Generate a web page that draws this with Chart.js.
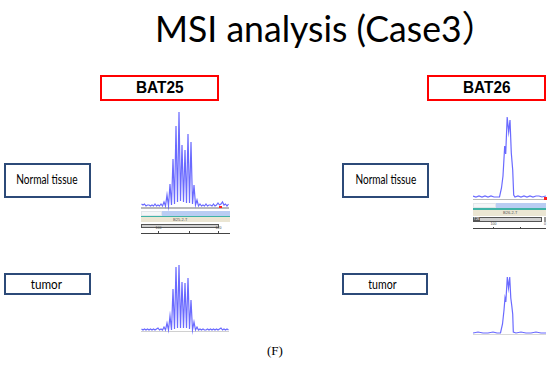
<!DOCTYPE html>
<html><head><meta charset="utf-8">
<script src="https://cdn.jsdelivr.net/npm/chart.js@4.4.1/dist/chart.umd.min.js"></script>
<style>
html,body{margin:0;padding:0;background:#fff;}
#stage{position:relative;width:550px;height:372px;overflow:hidden;font-family:Lato,"Open Sans",sans-serif;color:#000;}
.box{position:absolute;box-sizing:border-box;}
.txt{position:absolute;white-space:nowrap;line-height:1;transform-origin:center center;}
.rect{position:absolute;box-sizing:border-box;}
canvas{position:absolute;}
</style></head><body><div id="stage"></div>
<script>
// ---------- DATA ----------
const titleText = "MSI analysis (Case3\uFF09";
const markerNames = ["BAT25", "BAT26"];
const sampleNames = ["Normal tissue", "tumor"];
const figureLabel = "(F)";
const bat25Labels = ["B25-2-T", "100", "120"];
const bat26Labels = ["B26-2-T", "T26", "100", "0"];

// BAT25: fragment size (bp) and signal (relative units)
const bat25Size = [94.5,95,95.5,96,96.5,97,97.5,98,98.5,99,99.5,100,100.5,101,101.5,102,102.5,103,103.5,104,104.5,105,105.5,106,106.5,107,107.5,108,108.5,109,109.5,110,110.5,111,111.5,112,112.5,113,113.5,114,114.5,115,115.5,116,116.5,117,117.5,118,118.5,119,119.5,120,120.5,121,121.5,122,122.5,123,123.5];
const bat25Normal = [3,2,3,1,2,2,1,2,1,3,1,2,1,3,1,5,1,12,1,23,2,48,3,81,5,95,6,62,5,57,4,73,4,65,3,22,2,7,1,3,1,2,1,3,1,2,2,1,3,1,2,4,2,3,5,2,3,1,3];
const bat25Tumor  = [2,1,2,1,2,1,2,1,2,1,2,3,1,2,1,4,1,8,1,15,1,42,2,64,3,66,3,49,3,48,3,53,2,31,1,9,1,4,1,2,1,2,1,1,2,1,2,1,2,1,2,1,2,3,1,2,1,2,1];

// BAT26: fragment size (bp) and signal (relative units)
const bat26NormalSize = [93.33,94.33,95.33,96.33,97.33,98.33,99.33,100.33,101.33,102.17,102.83,103.33,103.9,104.23,104.73,105.23,105.67,106.1,106.57,106.9,107.33,108.33,109.33,110.33,111.33,112.33,113.33,114.33,115.33,116.33,117.67];
const bat26Normal     = [2,1,2,1,2,1,2,1,1,1,10,22,52,44,81,66,78,45,28,3,1,2,1,2,1,2,1,2,2,1,2];
const bat26TumorSize  = [93.33,95,96.67,98.33,100,101.33,102.5,103.17,103.67,104,104.27,104.77,105.17,105.57,105.93,106.27,106.57,106.77,107.67,109.33,111,112.67,114.33,116,117.67];
const bat26Tumor      = [1,2,1,1,2,1,1,10,24,36,32,57,46,57,36,28,20,2,1,2,1,1,2,1,1];

// ---------- LAYOUT HELPERS ----------
const stage = document.getElementById('stage');
function rect(l, t, w, h, css) {
  const d = document.createElement('div');
  d.className = 'rect';
  d.style.left = l + 'px'; d.style.top = t + 'px';
  d.style.width = w + 'px'; d.style.height = h + 'px';
  Object.assign(d.style, css || {});
  stage.appendChild(d);
  return d;
}
function text(str, cx, cy, size, width, css) {
  const s = document.createElement('span');
  s.className = 'txt';
  s.textContent = str;
  s.style.fontSize = size + 'px';
  Object.assign(s.style, css || {});
  stage.appendChild(s);
  const w = s.offsetWidth, h = s.offsetHeight;
  const sx = width ? width / w : 1;
  s.style.left = (cx - w / 2) + 'px';
  s.style.top = (cy - h / 2) + 'px';
  s.style.transform = 'scaleX(' + sx + ')';
  return s;
}
function trace(left, right, base, xs, ys, xMin, xMax) {
  const c = document.createElement('canvas');
  const w = right - left, h = 104;
  c.width = w; c.height = h;
  c.style.width = w + 'px'; c.style.height = h + 'px';
  c.style.left = left + 'px'; c.style.top = (base - 100) + 'px';
  stage.appendChild(c);
  new Chart(c, {
    type: 'line',
    data: { datasets: [{ data: xs.map((x, i) => ({ x: x, y: ys[i] })),
      borderColor: 'rgba(80,80,255,0.85)', borderWidth: 1.2, pointRadius: 0, tension: 0, fill: false }] },
    options: {
      responsive: false, animation: false, devicePixelRatio: 1, events: [],
      layout: { padding: 0 },
      plugins: { legend: { display: false }, tooltip: { enabled: false } },
      scales: {
        x: { type: 'linear', display: false, min: xMin, max: xMax },
        y: { display: false, min: -4, max: 100 }
      }
    }
  });
}

// ---------- TITLE ----------
text(titleText, 326, 28, 36, 342, { fontFamily: 'Lato, "Noto Sans CJK JP", sans-serif' });

// ---------- MARKER BOXES ----------
rect(100, 75, 119, 26, { border: '2px solid #ff0000' });
text(markerNames[0], 159.5, 88, 16, 48, { fontFamily: '"Liberation Sans", Arial, sans-serif', fontWeight: 'bold' });
rect(427, 75, 119, 26, { border: '2px solid #ff0000' });
text(markerNames[1], 486.5, 88, 16, 48, { fontFamily: '"Liberation Sans", Arial, sans-serif', fontWeight: 'bold' });

// ---------- SAMPLE BOXES ----------
const navy = '2px solid #2c4a78';
rect(3.5, 163, 87, 35, { border: navy });
text(sampleNames[0], 46.5, 180.5, 12.5, 61.5);
rect(341.5, 163, 87.5, 35, { border: navy });
text(sampleNames[0], 385.5, 180.5, 12.5, 61);
rect(3.5, 273, 87, 22, { border: navy });
text(sampleNames[1], 46.7, 284, 13, 31.5);
rect(341.5, 273, 86.5, 22, { border: navy });
text(sampleNames[1], 382.5, 284, 13, 28.5);

// ---------- BAT25 normal annotation ----------
rect(141, 207.3, 88, 1.4, { background: '#b8b8b8' });
rect(141, 211, 21, 5, { background: '#f4f6f8', border: '1px solid #e2e6ea' });
rect(162, 211, 68, 5, { background: '#b9cdf3' });
rect(141, 216, 89, 1.3, { background: '#3fb3a6' });
rect(141, 217.3, 89, 5.2, { background: '#ebe6d3' });
text(bat25Labels[0], 180, 220, 4, null, { fontFamily: 'sans-serif', color: '#555' });
rect(141, 224, 78, 3.6, { background: '#cfcfcf', border: '1px solid #555' });
rect(141, 232.5, 89, 1, { background: '#444' });
rect(158, 231, 1, 2, { background: '#444' });
rect(189, 231, 1, 2, { background: '#444' });
rect(218, 231, 1, 2, { background: '#444' });
text(bat25Labels[1], 158.5, 229, 3.5, null, { fontFamily: 'sans-serif', color: '#444' });
text(bat25Labels[2], 218.5, 229, 3.5, null, { fontFamily: 'sans-serif', color: '#444' });
rect(219, 205.5, 2.5, 2.5, { background: '#ff2020' });
// BAT25 tumor baseline
rect(141, 331.3, 88, 1.2, { background: '#d0d0d0' });

// ---------- BAT26 normal annotation ----------
rect(473, 198.6, 73, 1.3, { background: '#b8b8b8' });
rect(473, 203, 23, 5.3, { background: '#f4f6f8', border: '1px solid #e2e6ea' });
rect(496, 203, 50, 5.3, { background: '#b9cdf3' });
rect(473, 208.3, 73, 1.3, { background: '#3fb3a6' });
rect(473, 209.6, 73, 6, { background: '#ebe6d3' });
text(bat26Labels[0], 510, 212.6, 4, null, { fontFamily: 'sans-serif', color: '#555' });
rect(473, 217.3, 69, 4.7, { background: '#cfcfcf', border: '1px solid #555' });
rect(473, 217.3, 7, 4.7, { background: '#555' });
text(bat26Labels[1], 476.5, 219.7, 3.5, null, { fontFamily: 'sans-serif', color: '#fff' });
rect(544, 217.3, 2, 4.7, { background: '#999' });
rect(473, 228.3, 73, 1, { background: '#444' });
rect(493, 226.8, 1, 2, { background: '#444' });
rect(520, 226.8, 1, 2, { background: '#444' });
text(bat26Labels[2], 493.5, 225, 3.5, null, { fontFamily: 'sans-serif', color: '#444' });
text(bat26Labels[3], 545, 225, 3.5, null, { fontFamily: 'sans-serif', color: '#444' });
rect(543.5, 197.3, 3, 2.5, { background: '#ff2020' });
rect(473, 334.3, 73, 1.1, { background: '#d8d8d8' });

// ---------- TRACES ----------
trace(141, 229, 207, bat25Size, bat25Normal, 94.33, 123.67);
trace(141, 229, 331, bat25Size, bat25Tumor, 94.33, 123.67);
trace(473, 546, 198.3, bat26NormalSize, bat26Normal, 93.33, 117.67);
trace(473, 546, 334, bat26TumorSize, bat26Tumor, 93.33, 117.67);

// ---------- FIGURE LABEL ----------
text(figureLabel, 275, 350, 13, null, { fontFamily: '"Liberation Serif", "Times New Roman", serif' });
</script></body></html>
